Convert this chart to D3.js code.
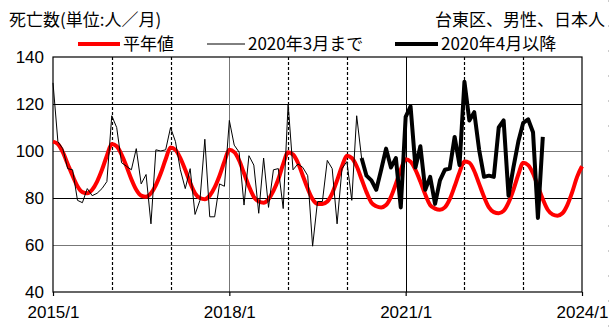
<!DOCTYPE html>
<html>
<head>
<meta charset="utf-8">
<script src="https://cdn.jsdelivr.net/npm/d3@7"></script>
<style>
  body { margin: 0; background: #fff; }
  text { font-family: "Noto Sans CJK JP", "Noto Sans", sans-serif; }
</style>
</head>
<body>
<div class="chart"></div>
<script>
// months counted from 2015/1 (index 0) to 2024/1 (index 108)
var xTickMonths = [0, 36, 72, 108];
var xTickLabels = ['2015/1', '2018/1', '2021/1', '2024/1'];
var yTicks = [40, 60, 80, 100, 120, 140];

// 平年値 2015/1 .. 2024/1
var normal = [
  104, 103, 99.5, 94.5, 89.5, 85, 82.5, 82, 83.5, 87, 92, 98,
  103, 102, 98.5, 93.5, 88, 83.5, 81, 80.5, 82, 85.5, 90.5, 96.5,
  101.5, 100.5, 97, 92, 86.5, 82, 80, 79.5, 81, 84.5, 89.5, 95.5,
  100.5, 99.5, 96, 90.5, 85, 80.5, 78.5, 78, 79.5, 83, 88, 94.5,
  99.5, 98.5, 95, 89.5, 84, 79.5, 77.5, 77.5, 78.5, 82, 87.5, 93.5,
  98, 97, 93.5, 88, 82.5, 78, 76.5, 76, 77, 80.5, 86, 92,
  96.5, 95.5, 92, 87, 81.5, 77, 75.5, 75, 76, 79.5, 85, 91,
  95.5, 95, 91.5, 86, 80.5, 76, 74, 73.5, 74.5, 78, 83.5, 90,
  95, 94, 90.5, 85, 79.5, 75, 73, 72.5, 73.5, 77, 82.5, 89,
  93.5
];

// 2020年3月まで (2015/1 .. 2020/4, last point joins the thick line)
var before = [
  129, 104, 101, 92.5, 92, 79, 78, 84, 81, 82, 84, 87,
  115, 110, 95, 93.5, 92, 101, 86, 90, 69, 100.5, 100, 100.5,
  110, 104, 92, 84, 92.5, 73, 79, 105, 72, 72, 86, 85,
  113, 102.5, 99.5, 77, 98, 94, 73.5, 97, 76, 92, 92.5, 75.5,
  120, 92, 94.5, 93, 89.5, 59.5, 78.5, 78.5, 96, 92.5, 69, 92.5,
  95.5, 79, 115, 97
];

// 2020年4月以降 (2020/4 .. 2023/5)
var afterStart = 63;
var after = [
  97, 89.5, 87.5, 83.5, 92, 101, 93, 97, 76,
  114.5, 119, 93, 102, 83.5, 89, 77.5, 87.5, 92, 92.5, 106, 94,
  129.5, 113, 116.5, 100.5, 89, 89.5, 89, 110, 113, 81, 93, 104,
  112, 113.5, 108, 71.5, 106
];

var width = 611, height = 327;
var margin = {top: 57, right: 29, bottom: 35, left: 53};
var tickFont = '"Liberation Sans", Arial, sans-serif';

var svg = d3.select('.chart')
  .append('svg')
    .attr('width', width)
    .attr('height', height);

svg.append('rect')
  .attr('width', width)
  .attr('height', height)
  .attr('fill', '#fff');

var x = d3.scaleLinear()
  .domain([0, 108])
  .range([margin.left, width - margin.right]);

var y = d3.scaleLinear()
  .domain([40, 140])
  .range([height - margin.bottom, margin.top]);

// horizontal grid
svg.append('g')
  .selectAll('line')
  .data([60, 80, 100, 120])
  .enter()
  .append('line')
    .attr('x1', x(0))
    .attr('x2', x(108))
    .attr('y1', d => Math.round(y(d)) + 0.5)
    .attr('y2', d => Math.round(y(d)) + 0.5)
    .attr('stroke', d => (d == 60 || d == 100) ? '#777' : '#000')
    .attr('stroke-width', 1);

// vertical grid: yearly, solid at the labelled years, dashed otherwise
var years = d3.range(12, 108, 12);
svg.append('g')
  .selectAll('line')
  .data(years)
  .enter()
  .append('line')
    .attr('x1', d => Math.round(x(d)) + 0.5)
    .attr('x2', d => Math.round(x(d)) + 0.5)
    .attr('y1', y(140))
    .attr('y2', y(40))
    .attr('stroke', d => d == 36 ? '#777' : '#000')
    .attr('stroke-width', d => d % 36 == 0 ? 1 : 1.2)
    .attr('stroke-dasharray', d => d % 36 == 0 ? null : '3,2');

// frame
svg.append('rect')
  .attr('x', x(0))
  .attr('y', y(140))
  .attr('width', x(108) - x(0))
  .attr('height', y(40) - y(140))
  .attr('fill', 'none')
  .attr('stroke', '#000')
  .attr('stroke-width', 1.2);

// axes
var xAxis = svg.append('g')
  .attr('transform', `translate(0, ${y(40)})`)
  .call(d3.axisBottom(x)
    .tickValues(xTickMonths)
    .tickFormat((d, i) => xTickLabels[i])
    .tickSize(4)
    .tickPadding(10));
xAxis.select('.domain').remove();
xAxis.selectAll('line').attr('stroke', '#000').attr('stroke-width', 1.2);
xAxis.selectAll('text')
  .attr('font-size', 17)
  .attr('fill', '#000')
  .style('font-family', tickFont);

var yAxis = svg.append('g')
  .attr('transform', `translate(${x(0)}, 0)`)
  .call(d3.axisLeft(y)
    .tickValues(yTicks)
    .tickSize(0)
    .tickPadding(9));
yAxis.select('.domain').remove();
yAxis.selectAll('text')
  .attr('font-size', 17)
  .attr('fill', '#000')
  .style('font-family', tickFont);

// lines
var line = d3.line()
  .x(d => x(d[0]))
  .y(d => y(d[1]));

svg.append('path')
  .datum(normal.map((v, i) => [i, v]))
  .attr('d', line.curve(d3.curveMonotoneX))
  .attr('fill', 'none')
  .attr('stroke', '#ff0000')
  .attr('stroke-width', 4)
  .attr('stroke-linejoin', 'round');

line.curve(d3.curveLinear);

svg.append('path')
  .datum(before.map((v, i) => [i, v]))
  .attr('d', line)
  .attr('fill', 'none')
  .attr('stroke', '#000')
  .attr('stroke-width', 1);

svg.append('path')
  .datum(after.map((v, i) => [afterStart + i, v]))
  .attr('d', line)
  .attr('fill', 'none')
  .attr('stroke', '#000')
  .attr('stroke-width', 4)
  .attr('stroke-linejoin', 'round');

// titles
svg.append('text')
  .attr('x', 9)
  .attr('y', 26)
  .attr('font-size', 17)
  .text('死亡数(単位:人／月)');

svg.append('text')
  .attr('x', 605)
  .attr('y', 26)
  .attr('text-anchor', 'end')
  .attr('font-size', 17)
  .text('台東区、男性、日本人');

// legend
var legend = [
  {label: '平年値', x: 78, len: 42, color: '#ff0000', w: 4},
  {label: '2020年3月まで', x: 207, len: 38, color: '#000', w: 1},
  {label: '2020年4月以降', x: 395, len: 43, color: '#000', w: 4}
];

var lg = svg.append('g')
  .selectAll('g')
  .data(legend)
  .enter()
  .append('g');

lg.append('line')
  .attr('x1', d => d.x)
  .attr('x2', d => d.x + d.len)
  .attr('y1', 44)
  .attr('y2', 44)
  .attr('stroke', d => d.color)
  .attr('stroke-width', d => d.w);

lg.append('text')
  .attr('x', d => d.x + d.len + 3)
  .attr('y', 50)
  .attr('font-size', 17)
  .text(d => d.label);

// faint dotted edge on the far right
svg.append('line')
  .attr('x1', 608.5)
  .attr('x2', 608.5)
  .attr('y1', 0)
  .attr('y2', height)
  .attr('stroke', '#ccc')
  .attr('stroke-dasharray', '2,23');
</script>
</body>
</html>
